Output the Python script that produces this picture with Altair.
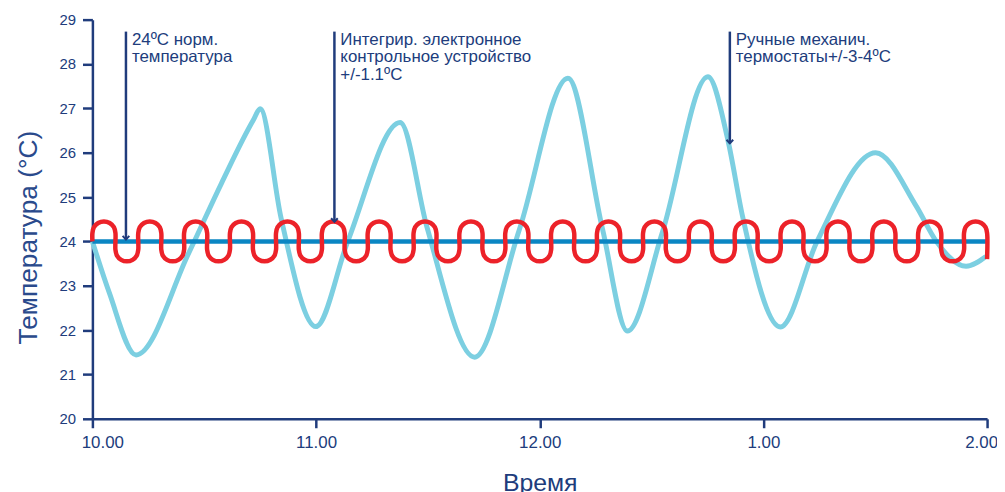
import json
import math
import altair as alt
import pandas as pd

# ---------------- data ----------------
x_tick_values = [0, 1, 2, 3, 4]
x_tick_labels = ["10.00", "11.00", "12.00", "1.00", "2.00"]
y_tick_values = list(range(20, 30))

# light-blue curve: manual mechanical thermostat (hours after 10.00, °C)
wave_hours = [0.0, 0.075, 0.195, 0.431, 0.577, 0.719, 0.750, 0.843, 0.999, 1.141,
              1.376, 1.496, 1.709, 1.909, 2.126, 2.281, 2.392, 2.548, 2.752, 2.841,
              2.907, 3.076, 3.240, 3.502, 3.684, 3.773, 3.906, 3.995]
wave_temps = [24.0, 22.85, 21.44, 23.74, 25.31, 26.73, 26.99, 24.54, 22.08, 23.99,
              26.68, 24.32, 21.39, 24.27, 27.68, 24.27, 21.98, 24.20, 27.71, 26.29,
              24.56, 22.07, 24.00, 26.00, 24.79, 24.00, 23.44, 23.66]

# dark-blue set point line
setpoint_hours = [0.0, 4.0]
setpoint_temps = [24.0, 24.0]

# red meander: integrated electronic controller (+/-0.45 °C band)
red_sides = [0.000, 0.103, 0.205, 0.308, 0.410, 0.513, 0.615, 0.718, 0.821, 0.923,
             1.026, 1.128, 1.231, 1.333, 1.436, 1.538, 1.641, 1.744, 1.846, 1.949,
             2.051, 2.154, 2.256, 2.359, 2.462, 2.564, 2.667, 2.769, 2.872, 2.974,
             3.077, 3.179, 3.282, 3.385, 3.487, 3.590, 3.692, 3.795, 3.897, 4.000]
red_center = 24.0
red_straight = 0.19   # half-length of the vertical parts
red_turn = 0.26       # vertical radius of the rounded turns
red_start = 24.0
red_end = 23.6
turn_angles = [0, 30, 60, 90, 120, 150, 180]

# annotations
ann_hours = [0.150, 1.082, 2.850]
ann_tips = [24.04, 24.44, 26.21]
ann_top = 28.73
ann_texts = ["24ºC норм.\nтемпература",
             "Интегрир. электронное\nконтрольное устройство\n+/-1.1ºC",
             "Ручные механич.\nтермостаты+/-3-4ºC"]

# ---------------- styling ----------------
NAVY = "#203c7c"
FONT = "Liberation Sans"

# ---------------- tables ----------------
wave_df = pd.DataFrame({"h": wave_hours, "t": wave_temps})
set_df = pd.DataFrame({"h": setpoint_hours, "t": setpoint_temps})

red_pts = [(red_sides[0], red_start)]
for i in range(len(red_sides) - 1):
    a, b = red_sides[i], red_sides[i + 1]
    r = (b - a) / 2
    sign = 1 if i % 2 == 0 else -1
    for ang in turn_angles:
        th = math.radians(ang)
        red_pts.append((a + r * (1 - math.cos(th)),
                        red_center + sign * (red_straight + red_turn * math.sin(th))))
red_pts.append((red_sides[-1], red_end))
red_df = pd.DataFrame({"h": [p[0] for p in red_pts], "t": [p[1] for p in red_pts],
                       "i": list(range(len(red_pts)))})

ann_df = pd.DataFrame({"h": ann_hours, "tip": ann_tips, "top": [ann_top] * 3,
                       "txt": ann_texts})

x_scale = alt.Scale(domain=[0, 4], nice=False, zero=False)
y_scale = alt.Scale(domain=[20, 29], nice=False, zero=False)

label_expr = json.dumps(x_tick_labels) + "[datum.value]"

x_axis = alt.Axis(values=x_tick_values, labelExpr=label_expr, title="Время",
                  titleFontSize=25, titleFontWeight="normal", titleColor=NAVY,
                  titlePadding=20, labelFontSize=17, labelPadding=7, tickSize=9,
                  labelFlush=False,
                  labelOffset={"condition": [{"test": "datum.value == 0", "value": 10},
                                             {"test": "datum.value == 4", "value": -6}],
                               "value": 0},
                  grid=False)
y_axis = alt.Axis(values=y_tick_values, title="Температура (°C)", titleFontSize=26.5,
                  titleFontWeight="normal", titleColor="#2a4a8c", titleX=-64, titleY=219,
                  titleAngle=270, titleAlign="center", titleBaseline="middle",
                  labelFontSize=15, labelPadding=7, tickSize=10, grid=False)

base_x = alt.X("h:Q", scale=x_scale, axis=x_axis)
base_y = alt.Y("t:Q", scale=y_scale, axis=y_axis)

wave = alt.Chart(wave_df).mark_line(color="#7ccfe1", strokeWidth=5,
                                    interpolate="monotone").encode(x=base_x, y=base_y)
setline = alt.Chart(set_df).mark_line(color="#0b86c3", strokeWidth=4.5).encode(
    x="h:Q", y="t:Q")
red = alt.Chart(red_df).mark_line(color="#ec2229", strokeWidth=4.5,
                                  interpolate="catmull-rom").encode(
    x="h:Q", y="t:Q", order="i:Q")

arrows = alt.Chart(ann_df).mark_rule(color=NAVY, strokeWidth=2.5).encode(
    x="h:Q", y="top:Q", y2="tip:Q")
heads = alt.Chart(ann_df).mark_point(shape="M-1,-1.1L0,0L1,-1.1", filled=False,
                                     stroke=NAVY, strokeWidth=2, size=45,
                                     opacity=1).encode(x="h:Q", y="tip:Q")
texts = alt.Chart(ann_df).mark_text(align="left", baseline="top", dx=6, fontSize=17,
                                    lineHeight=18, lineBreak="\n", color=NAVY,
                                    font=FONT).encode(x="h:Q", y="top:Q", text="txt:N")

chart = alt.layer(wave, setline, red, arrows, heads, texts).properties(
    width=901, height=402,
    autosize=alt.AutoSizeParams(type="none"),
    padding={"left": 85, "top": 10, "right": 10, "bottom": 72},
).configure_view(stroke=None).configure_axis(
    domainColor=NAVY, domainWidth=2.5, tickColor=NAVY, tickWidth=2.5,
    labelColor=NAVY, labelFont=FONT, titleFont=FONT,
)

chart.save("out.html", embed_options={"renderer": "svg", "actions": False})
